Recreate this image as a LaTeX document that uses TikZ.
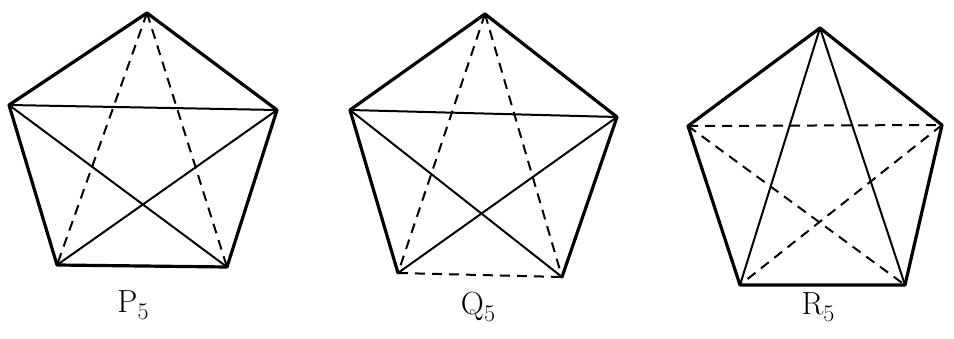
\documentclass[tikz,border=0pt]{standalone}
\newcommand{\gsub}[2]{#1\raisebox{-0.5ex}{\fontsize{24}{24}\selectfont #2}}
\begin{document}
\begin{tikzpicture}[x=1pt,y=-1pt,
  outer/.style={line width=3.2pt,line cap=round,line join=round},
  diag/.style={line width=2pt,line cap=round},
  dsh/.style={line width=2pt,dash pattern=on 10pt off 7pt},
  lbl/.style={font=\fontsize{32}{32}\selectfont, inner sep=0pt}]
\useasboundingbox (0,0) rectangle (954,339);
% P5
\coordinate (pt) at (147,13);
\coordinate (pr) at (277,110);
\coordinate (pbr) at (227,267);
\coordinate (pbl) at (57,265);
\coordinate (pl) at (9,105);
\draw[outer] (pt) -- (pr) -- (pbr) -- (pbl) -- (pl) -- cycle;
\draw[diag] (pl) -- (pr);
\draw[diag] (pl) -- (pbr);
\draw[diag] (pr) -- (pbl);
\draw[dsh] (pt) -- (pbl);
\draw[dsh] (pt) -- (pbr);
\node[lbl] (lp) at (133,305) {\gsub{P}{5}};
% Q5
\coordinate (qt) at (485,14);
\coordinate (qr) at (617,117);
\coordinate (qbr) at (562,277);
\coordinate (qbl) at (398,273);
\coordinate (ql) at (350,110);
\draw[outer] (qbr) -- (qr) -- (qt) -- (ql) -- (qbl);
\draw[dsh] (qbl) -- (qbr);
\draw[diag] (ql) -- (qr);
\draw[diag] (ql) -- (qbr);
\draw[diag] (qr) -- (qbl);
\draw[dsh] (qt) -- (qbl);
\draw[dsh] (qt) -- (qbr);
\node[lbl] (lq) at (478,307) {\gsub{Q}{5}};
% R5
\coordinate (rt) at (820,28);
\coordinate (rr) at (942,125);
\coordinate (rbr) at (905,285);
\coordinate (rbl) at (740,285);
\coordinate (rl) at (688,126);
\draw[outer] (rt) -- (rr) -- (rbr) -- (rbl) -- (rl) -- cycle;
\draw[diag] (rt) -- (rbl);
\draw[diag] (rt) -- (rbr);
\draw[dsh] (rl) -- (rr);
\draw[dsh] (rl) -- (rbr);
\draw[dsh] (rr) -- (rbl);
\node[lbl] (lr) at (818,307) {\gsub{R}{5}};
\end{tikzpicture}
\end{document}
